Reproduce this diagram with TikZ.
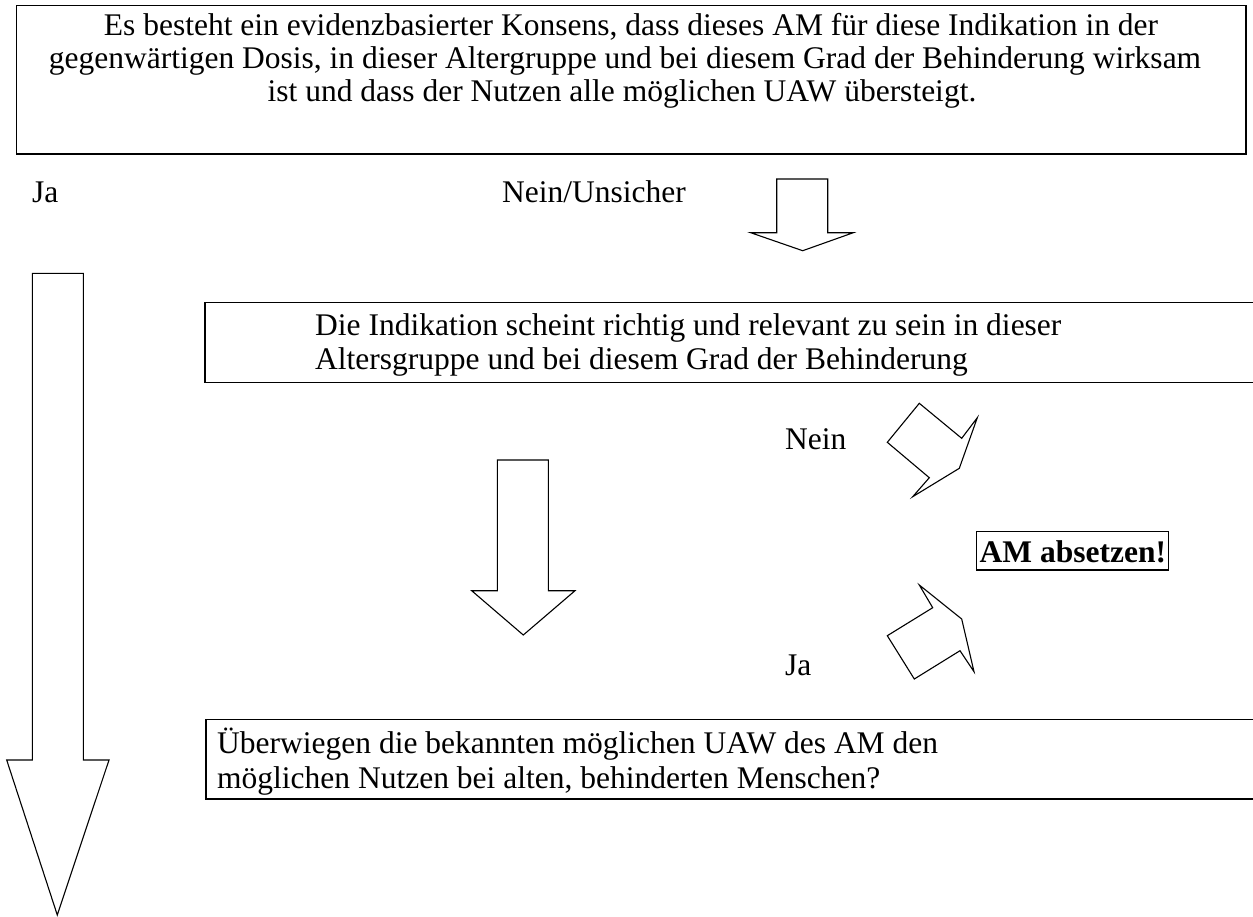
\documentclass[tikz,border=0pt]{standalone}
\usepackage{fontspec}
\setmainfont{Liberation Serif}
\begin{document}
\begin{tikzpicture}[x=1pt,y=-1pt,
  txt/.style={inner sep=0pt,font=\fontsize{31.5}{36}\selectfont},
  boxline/.style={draw=black,line width=1.5pt},
  blockarrow/.style={draw=black,line width=1.1pt,fill=white,line join=miter}]
\useasboundingbox (0,0) rectangle (1253,916);
% top box
\draw[boxline] (16.7,5.7) rectangle (1246,154);
\node[txt,anchor=base] (t1) at (631,35) {Es besteht ein evidenzbasierter Konsens, dass dieses AM für diese Indikation in der};
\node[txt,anchor=base] (t2) at (625,68) {gegenwärtigen Dosis, in dieser Altergruppe und bei diesem Grad der Behinderung wirksam};
\node[txt,anchor=base] (t3) at (622,101) {ist und dass der Nutzen alle möglichen UAW übersteigt.};
% labels
\node[txt,anchor=base west] (ja1) at (32,202) {Ja};
\node[txt,anchor=base west] (nu) at (502,202) {Nein/Unsicher};
% top down arrow
\draw[blockarrow] (776.7,179) -- (827.7,179) -- (827.7,232.7) -- (853.3,232.7) -- (802.7,250.7) -- (750.7,232.7) -- (776.7,232.7) -- cycle;
% long left arrow
\draw[blockarrow] (32.3,273.3) -- (83.3,273.3) -- (83.3,760) -- (109,760) -- (57.3,915) -- (6.7,760) -- (32.3,760) -- cycle;
% box 2
\draw[boxline] (1253,302.7) -- (205,302.7) -- (205,382.7) -- (1253,382.7);
\node[txt,anchor=base west] (b1) at (315,335) {Die Indikation scheint richtig und relevant zu sein in dieser};
\node[txt,anchor=base west] (b2) at (315,369) {Altersgruppe und bei diesem Grad der Behinderung};
% middle down arrow
\draw[blockarrow] (497.3,460) -- (548.3,460) -- (548.3,590.7) -- (575,590.7) -- (523.3,635) -- (471.7,590.7) -- (497.3,590.7) -- cycle;
% Nein diagonal arrow
\node[txt,anchor=base west] (nein) at (785,449) {Nein};
\draw[blockarrow] (887.3,442.3) -- (919.3,403.3) -- (961.7,438.3) -- (977.3,417.7) -- (959.3,468.3) -- (912.7,496.7) -- (929.3,477.7) -- cycle;
% AM absetzen
\draw[draw=black,line width=1.3pt] (976.7,531.7) rectangle (1168.3,570);
\node[txt,anchor=base west,font=\fontsize{31.5}{36}\selectfont\bfseries] (am) at (979.5,562) {AM absetzen!};
% Ja diagonal arrow
\node[txt,anchor=base west] (ja2) at (785,675) {Ja};
\draw[blockarrow] (919.3,585) -- (961.7,619) -- (974,671.7) -- (960,650.7) -- (914.3,679) -- (887.3,635.7) -- (932.7,607.7) -- cycle;
% bottom box
\draw[boxline] (1253,719.3) -- (206,719.3) -- (206,799) -- (1253,799);
\node[txt,anchor=base west] (u1) at (217,753) {Überwiegen die bekannten möglichen UAW des AM den};
\node[txt,anchor=base west] (u2) at (217,788) {möglichen Nutzen bei alten, behinderten Menschen?};
\end{tikzpicture}
\end{document}
